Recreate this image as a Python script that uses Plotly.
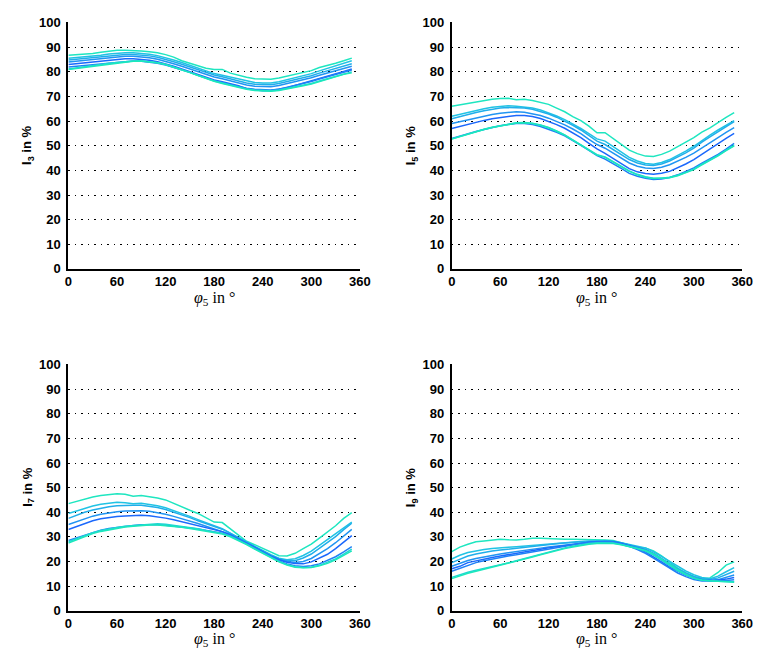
import plotly.graph_objects as go

# Phase angle of the 5th harmonic (degrees)
phi = [0, 10, 20, 30, 40, 50, 60, 70, 80, 90, 100, 110, 120, 130, 140, 150, 160, 170,
       180, 190, 200, 210, 220, 230, 240, 250, 260, 270, 280, 290, 300, 310, 320, 330, 340, 350]

# I3 in % (one list per curve)
i3 = [
    [86.8, 87, 87.3, 87.5, 88, 88.5, 88.8, 88.8, 88.7, 88.5, 88.2, 87.8, 87, 86, 84.5, 83.5, 82.8, 81.5,
     81, 81, 79.5, 78.5, 77.8, 77.2, 77, 77, 77.5, 78.3, 79, 79.8, 80.5, 81.8, 82.5, 83.5, 84.5, 85.6],
    [85.5, 85.8, 86.2, 86.5, 86.8, 87.3, 87.6, 87.8, 87.8, 87.6, 87.2, 86.6, 85.8, 84.8, 83.8, 82.6, 81.5, 80.3,
     79.3, 78.6, 77.8, 77, 76.2, 75.7, 75.5, 75.5, 76, 76.8, 77.6, 78.4, 79.3, 80.4, 81.5, 82.5, 83.5, 84.5],
    [84.8, 85.1, 85.5, 85.9, 86.2, 86.6, 86.9, 87.1, 87.1, 86.9, 86.5, 85.9, 85.1, 84.1, 83.1, 82, 80.9, 79.7,
     78.7, 78, 77.1, 76.3, 75.5, 75, 74.8, 74.8, 75.3, 76, 76.8, 77.6, 78.4, 79.5, 80.5, 81.5, 82.5, 83.3],
    [84, 84.3, 84.7, 85, 85.4, 85.8, 86.1, 86.3, 86.3, 86.1, 85.7, 85.1, 84.3, 83.3, 82.3, 81.2, 80.1, 78.9,
     77.9, 77.2, 76.3, 75.5, 74.7, 74.2, 74, 74, 74.5, 75.2, 76, 76.8, 77.6, 78.6, 79.6, 80.6, 81.5, 82.3],
    [83, 83.3, 83.6, 84, 84.4, 84.8, 85.1, 85.3, 85.3, 85.1, 84.7, 84.1, 83.3, 82.3, 81.2, 80.1, 79, 77.8,
     76.7, 76, 75.2, 74.4, 73.2, 72.6, 72.3, 72.4, 72.9, 73.6, 74.5, 75.4, 76.3, 77.3, 78.3, 79.3, 80.2, 81.2],
    [82, 82.3, 82.7, 83, 83.4, 83.8, 84.1, 84.3, 84.4, 84.3, 84, 83.5, 82.8, 81.9, 80.9, 79.8, 78.6, 77.5,
     76.5, 75.7, 74.9, 74.1, 73.4, 72.9, 72.6, 72.6, 73, 73.7, 74.5, 75.3, 76.1, 77.1, 78, 79, 79.9, 80.8],
    [81.2, 81.6, 82, 82.5, 83, 83.5, 83.9, 84.2, 84.4, 84.4, 84.2, 83.7, 83, 82, 80.9, 79.8, 78.6, 77.4,
     76.3, 75.5, 74.6, 73.8, 73.1, 72.6, 72.3, 72.3, 72.6, 73.2, 73.9, 74.6, 75.3, 76.3, 77.3, 78.3, 79.2, 80],
    [81, 81.4, 81.8, 82.3, 82.8, 83.3, 83.7, 84, 84.3, 84.4, 84.2, 83.7, 83, 82, 80.9, 79.7, 78.5, 77.3,
     76.2, 75.3, 74.4, 73.6, 72.9, 72.4, 72.1, 72.1, 72.4, 73, 73.7, 74.4, 75.1, 76.1, 77.1, 78.1, 79, 79.6],
]

# I5 in %
i5 = [
    [66, 66.6, 67.3, 67.7, 68.3, 68.9, 69.2, 69.3, 68.7, 68.9, 68.4, 67.6, 66.8, 65.3, 63.8, 61.8, 60.2, 58,
     55.3, 55.3, 53, 50.5, 48.2, 46.8, 45.8, 45.6, 46.5, 47.8, 49.5, 51.5, 53.3, 55.5, 57.3, 59.5, 61.5, 63.5],
    [62, 62.8, 63.6, 64.3, 65, 65.6, 66, 66.2, 66, 65.8, 65.3, 64.5, 63.4, 62.1, 60.6, 58.9, 57, 54.9,
     52.8, 51.9, 49.6, 47.3, 45.3, 43.8, 42.8, 42.5, 43.2, 44.4, 46, 47.8, 49.8, 52.2, 54.3, 56.4, 58.3, 60.2],
    [61, 61.9, 62.8, 63.5, 64.2, 64.9, 65.3, 65.5, 65.5, 65.3, 64.8, 64, 62.9, 61.6, 60.1, 58.3, 56.4, 54.1,
     51.9, 50.5, 48.5, 46.3, 44.4, 43, 42.2, 42, 42.6, 43.8, 45.3, 47.1, 49, 51.5, 53.6, 55.7, 57.8, 59.8],
    [59, 59.8, 60.6, 61.3, 62, 62.7, 63.2, 63.6, 63.8, 63.6, 63.1, 62.3, 61.2, 59.9, 58.5, 56.8, 54.9, 52.6,
     50.5, 49, 47, 44.9, 43, 41.7, 41, 40.8, 41.3, 42.3, 43.7, 45.3, 47, 49.2, 51.2, 53.3, 55.4, 57.4],
    [57, 57.9, 58.8, 59.6, 60.3, 61, 61.5, 61.9, 62.3, 62.3, 61.9, 61.1, 60, 58.6, 57.1, 55.3, 53.3, 51,
     48.7, 46.9, 44.8, 42.6, 40.7, 39.4, 38.7, 38.4, 38.8, 39.6, 41, 42.6, 44.4, 46.6, 48.6, 50.8, 53, 55],
    [53, 54, 55, 55.8, 56.6, 57.4, 58.1, 58.6, 59, 59, 58.6, 57.8, 56.8, 55.5, 54, 52.2, 50.2, 48.1,
     46, 44.6, 42.8, 40.8, 38.8, 37.6, 36.8, 36.3, 36.5, 37.1, 38.2, 39.5, 41, 42.9, 44.6, 46.5, 48.6, 51],
    [52.8, 53.8, 54.9, 55.8, 56.7, 57.5, 58.2, 58.9, 59.3, 59.4, 59.1, 58.4, 57.4, 56, 54.4, 52.4, 50.3, 48.3,
     46.4, 45.5, 43.5, 41.6, 39.8, 38.4, 37.4, 36.8, 36.8, 37.2, 38, 39.2, 40.5, 42.5, 44.2, 46.1, 48.2, 50.2],
    [52.7, 53.7, 54.8, 55.7, 56.6, 57.4, 58.1, 58.8, 59.2, 59.3, 59, 58.3, 57.3, 55.9, 54.3, 52.3, 50.2, 48.1,
     46.2, 45.3, 43.3, 41.4, 39.6, 38.2, 37.2, 36.7, 36.7, 37, 37.8, 39, 40.3, 42.2, 44, 45.9, 48, 50],
]

# I7 in %
i7 = [
    [43.5, 44.5, 45.5, 46.2, 46.8, 47.3, 47.5, 47.3, 46.5, 46.8, 46.4, 45.8, 45, 43.5, 42, 40.8, 39.5, 37.8,
     36, 35.8, 33.2, 30.5, 28.2, 26.8, 25.2, 23.6, 22.3, 22.2, 23.3, 25.2, 27, 29.5, 32, 34.5, 37.5, 39.8],
    [39.5, 40.6, 41.7, 42.5, 43.2, 43.7, 44, 43.8, 43.4, 43.6, 43.2, 42.6, 41.8, 40.7, 39.5, 38.3, 37, 35.8,
     34.4, 33.3, 31.5, 29.6, 27.8, 26.1, 24.5, 22.7, 21.3, 20.7, 21.1, 22.4, 24.2, 26.6, 28.8, 31.2, 33.6, 36],
    [37.5, 38.8, 40, 40.9, 41.6, 42.2, 42.6, 42.8, 42.8, 42.8, 42.5, 41.9, 41.1, 40.1, 39, 37.8, 36.5, 35.3,
     34, 33.1, 31.4, 29.6, 27.7, 26, 24.3, 22.4, 21, 20.3, 20.3, 21.4, 23, 25.4, 27.7, 30.1, 32.9, 35.5],
    [35, 36.2, 37.4, 38.4, 39.2, 39.8, 40.2, 40.5, 40.6, 40.6, 40.4, 39.9, 39.2, 38.3, 37.4, 36.4, 35.4, 34.3,
     33.2, 32.4, 31, 29.3, 27.5, 25.8, 24.1, 22.3, 20.9, 20, 19.6, 20, 21.2, 23.2, 25.2, 27.6, 30.3, 33],
    [33, 34.2, 35.5, 36.5, 37.3, 37.9, 38.3, 38.5, 38.7, 38.8, 38.6, 38.2, 37.6, 36.9, 36.1, 35.3, 34.5, 33.6,
     32.8, 32.1, 30.8, 29.2, 27.4, 25.7, 23.9, 22.1, 20.7, 19.7, 19.1, 19, 19.8, 21.2, 22.9, 25.2, 27.8, 30.5],
    [28.5, 29.6, 30.8, 31.8, 32.7, 33.4, 33.9, 34.3, 34.6, 34.9, 35, 34.9, 34.7, 34.4, 34, 33.6, 33.2, 32.6,
     32, 31.5, 30.5, 29, 27.2, 25.4, 23.6, 21.8, 20.2, 19, 18.2, 17.9, 18.2, 19, 20.3, 21.9, 23.9, 26],
    [28, 29.3, 30.7, 31.7, 32.6, 33.3, 33.8, 34.3, 34.6, 35, 35.2, 35.3, 35.1, 34.7, 34.3, 33.8, 33.3, 32.6,
     32, 31.4, 30.3, 28.8, 27, 25.2, 23.4, 21.6, 20, 18.7, 17.8, 17.5, 17.6, 18.4, 19.6, 21, 23, 25],
    [27.5, 28.8, 30.2, 31.3, 32.2, 32.9, 33.5, 34, 34.3, 34.6, 34.8, 34.8, 34.6, 34.3, 33.9, 33.4, 32.9, 32.3,
     31.7, 31.1, 30, 28.5, 26.8, 25, 23.2, 21.4, 19.8, 18.5, 17.6, 17.4, 17.5, 18.2, 19.2, 20.6, 22.5, 24.3],
]

# I9 in %
i9 = [
    [24, 25.8, 27, 28, 28.3, 28.6, 29, 28.8, 28.7, 29, 29.4, 29.4, 29.2, 29.2, 29, 29, 29, 28.9,
     28.8, 28.7, 28.5, 27.5, 26.5, 25.8, 25.5, 24.3, 22.3, 19.8, 17.3, 15.3, 13.8, 13, 13.3, 15.5, 18.5, 19.8],
    [21, 22.5, 23.6, 24.3, 24.8, 25.2, 25.6, 25.8, 26, 26.3, 26.6, 26.9, 27.2, 27.5, 27.7, 27.9, 28.1, 28.2,
     28.3, 28.3, 28.2, 27.6, 26.8, 26.2, 25.5, 24, 22, 19.8, 17.8, 16.1, 14.6, 13.5, 13, 14, 15.8, 17.5],
    [19.5, 21, 22.2, 23, 23.7, 24.2, 24.6, 25, 25.3, 25.7, 26.1, 26.5, 26.8, 27.2, 27.5, 27.8, 28, 28.2,
     28.3, 28.3, 28.1, 27.4, 26.6, 25.9, 25, 23.4, 21.3, 19, 17, 15.3, 13.9, 13, 12.6, 13.3, 14.6, 16],
    [18, 19.3, 20.4, 21.2, 21.9, 22.5, 23, 23.5, 23.9, 24.4, 24.9, 25.4, 25.9, 26.3, 26.8, 27.2, 27.6, 27.9,
     28.1, 28.2, 28.1, 27.5, 26.7, 25.8, 24.7, 22.9, 20.6, 18.3, 16.3, 14.6, 13.3, 12.5, 12.2, 12.6, 13.5, 14.5],
    [17, 18, 19.5, 20.3, 21, 21.6, 22.2, 22.7, 23.1, 23.7, 24.3, 24.9, 25.5, 26, 26.5, 27, 27.4, 27.8,
     28, 28.1, 28, 27.3, 26.3, 25.2, 23.9, 22, 19.8, 17.7, 15.9, 14.4, 13.2, 12.5, 12.2, 12.3, 12.8, 13.5],
    [16, 17.2, 18.6, 19.5, 20.3, 21, 21.6, 22.2, 22.7, 23.3, 23.9, 24.6, 25.2, 25.8, 26.3, 26.8, 27.3, 27.7,
     28, 28.1, 28, 27.2, 26.1, 24.8, 23.3, 21.3, 19.2, 17.2, 15.3, 13.8, 12.6, 12, 11.9, 12, 12.2, 12.5],
    [13.5, 14.7, 15.6, 16.4, 17.1, 17.9, 18.7, 19.4, 20.3, 21.2, 22.1, 23, 23.9, 24.7, 25.5, 26.2, 26.8, 27.3,
     27.6, 27.7, 27.5, 26.9, 26.2, 25.3, 24.2, 22.6, 20.5, 18.3, 16.2, 14.5, 13.1, 12.3, 12, 11.9, 11.8, 11.7],
    [13, 14.2, 15.2, 16, 16.8, 17.6, 18.4, 19.1, 20, 20.9, 21.8, 22.7, 23.6, 24.4, 25.2, 25.9, 26.5, 27,
     27.3, 27.4, 27.3, 26.8, 26.1, 25.3, 24.4, 23, 21, 18.8, 16.6, 14.7, 13.2, 12.4, 12.1, 12, 11.8, 11.5],
]

line_colors = ["#1ee6c0", "#20c3e4", "#20aeea", "#2094f2", "#1b68fc", "#1f80f6", "#1fd6d4", "#1be8bc"]

y_ticks = [0, 10, 20, 30, 40, 50, 60, 70, 80, 90, 100]
x_ticks = [0, 60, 120, 180, 240, 300, 360]
Y_MAX = 100.3  # a hair above 100 so the top grid line is drawn

panels = [
    ("I<sub>3</sub> in %", i3),
    ("I<sub>5</sub> in %", i5),
    ("I<sub>7</sub> in %", i7),
    ("I<sub>9</sub> in %", i9),
]

W, H = 765, 657
# pixel boxes of the four axes: (left, right, y of value 100, y of value 0)
boxes = [
    (65.7, 363.0, 16.0, 268.0),
    (456.7, 753.0, 16.0, 268.0),
    (65.7, 363.0, 366.0, 617.7),
    (456.7, 753.0, 366.0, 617.7),
]

fig = go.Figure()
tick_font = dict(family="Liberation Sans, Arial, sans-serif", size=13, color="black", weight="bold")

for k, ((ytitle, series), (l, r, t100, b)) in enumerate(zip(panels, boxes)):
    n = "" if k == 0 else str(k + 1)
    t = b - (b - t100) * Y_MAX / 100.0
    for j, ys in enumerate(series):
        fig.add_trace(go.Scatter(
            x=phi, y=ys, mode="lines",
            line=dict(color=line_colors[j], width=1.5),
            xaxis="x" + n, yaxis="y" + n, showlegend=False, hoverinfo="skip",
        ))
    fig.update_layout(**{
        "xaxis" + n: dict(
            domain=[l / W, r / W], range=[0, 360], tickvals=x_ticks,
            showgrid=False, zeroline=False, showline=True, linecolor="black", linewidth=2,
            ticks="", tickfont=tick_font, anchor="y" + n, ticklabelstandoff=0,
        ),
        "yaxis" + n: dict(
            domain=[(H - b) / H, (H - t) / H], range=[0, Y_MAX], tickvals=y_ticks,
            showgrid=True, gridcolor="black", griddash="1.5px,5px", gridwidth=1.4,
            zeroline=False, showline=True, linecolor="black", linewidth=2,
            ticks="", tickfont=tick_font, anchor="x" + n, ticklabelstandoff=3,
        ),
    })
    # y-axis title
    fig.add_annotation(
        text=ytitle, xref="paper", yref="paper",
        x=(l - 41) / W, y=(H - (t100 + b) / 2) / H, textangle=-90,
        showarrow=False, xanchor="center", yanchor="middle",
        font=dict(family="Liberation Sans, Arial, sans-serif", size=13, color="black", weight="bold"),
    )
    # x-axis title
    fig.add_annotation(
        text="<i>φ</i><sub>5</sub> in °", xref="paper", yref="paper",
        x=((l + r) / 2) / W, y=(H - (b + 30)) / H,
        showarrow=False, xanchor="center", yanchor="middle",
        font=dict(family="Liberation Serif, Times New Roman, serif", size=16, color="black"),
    )

fig.update_layout(
    width=W, height=H, margin=dict(l=0, r=0, t=0, b=0),
    paper_bgcolor="white", plot_bgcolor="white",
)

fig.write_html("out.html")
